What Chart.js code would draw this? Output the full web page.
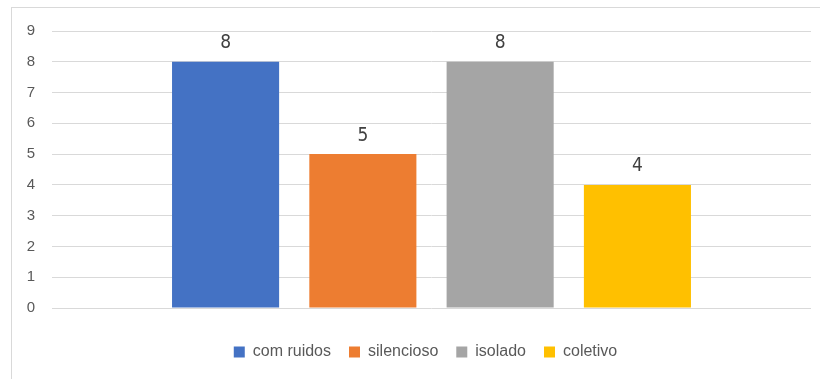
<!DOCTYPE html>
<html>
<head>
<meta charset="utf-8">
<script src="https://cdn.jsdelivr.net/npm/chart.js@4/dist/chart.umd.min.js"></script>
<style>
  html, body { margin: 0; padding: 0; background: #fff; overflow: hidden; }
  #wrap { position: relative; width: 820px; height: 379px; }
  #frame { position: absolute; left: 11px; top: 7px; width: 900px; height: 400px; border: 1px solid #d9d9d9; }
  canvas { position: absolute; left: 0; top: 0; }
</style>
</head>
<body>
<div id="wrap">
  <div id="frame"></div>
  <canvas id="myChart" width="820" height="379"></canvas>
</div>
<script>
var seriesNames = ['com ruidos', 'silencioso', 'isolado', 'coletivo'];
var seriesValues = [8, 5, 8, 4];
var seriesColors = ['#4472C4', '#ED7D31', '#A5A5A5', '#FFC000'];
var yMin = 0, yMax = 9, yStep = 1;

// value labels above each bar
var valueLabels = {
    id: 'valueLabels',
    afterLayout: function (chart) {
        // center legend under the plot area rather than the whole canvas
        chart.legend.left += 14;
        chart.legend.right += 14;
    },
    afterDatasetsDraw: function (chart) {
        var ctx = chart.ctx;
        ctx.save();
        ctx.font = '19px "Liberation Sans Narrow", "DejaVu Sans Condensed", sans-serif';
        ctx.fillStyle = '#404040';
        ctx.textAlign = 'center';
        ctx.textBaseline = 'bottom';
        chart.data.datasets.forEach(function (ds, i) {
            chart.getDatasetMeta(i).data.forEach(function (bar, j) {
                ctx.fillText(ds.data[j], bar.x, bar.y - 9);
            });
        });
        ctx.restore();
    }
};

var ctx = document.getElementById('myChart').getContext('2d');
var myChart = new Chart(ctx, {
    type: 'bar',
    data: {
        labels: [''],
        datasets: seriesNames.map(function (name, i) {
            return {
                label: name,
                data: [seriesValues[i]],
                backgroundColor: seriesColors[i],
                borderWidth: 0,
                categoryPercentage: 0.7235,
                barPercentage: 0.78
            };
        })
    },
    options: {
        responsive: false,
        animation: false,
        layout: {
            padding: { left: 12, right: 9, top: 31, bottom: 9 }
        },
        plugins: {
            tooltip: { enabled: false },
            legend: {
                position: 'bottom',
                labels: {
                    boxWidth: 11,
                    boxHeight: 11,
                    padding: 18,
                    color: '#595959',
                    font: { family: '"Liberation Sans", sans-serif', size: 16 }
                }
            }
        },
        scales: {
            x: {
                grid: { display: false },
                border: { display: false },
                ticks: { display: false },
                afterFit: function (scale) { scale.height = 18; }
            },
            y: {
                min: yMin,
                max: yMax,
                ticks: {
                    stepSize: yStep,
                    padding: 17,
                    color: '#595959',
                    font: { family: '"Liberation Sans", sans-serif', size: 15 }
                },
                grid: { color: '#d9d9d9', drawTicks: false },
                border: { display: false },
                afterFit: function (scale) { scale.width = 40; }
            }
        }
    },
    plugins: [valueLabels]
});
</script>
</body>
</html>
